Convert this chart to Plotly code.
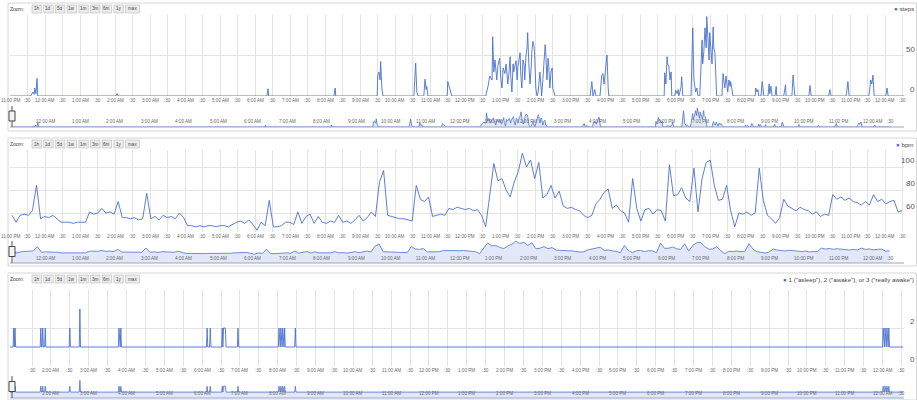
import plotly.graph_objects as go

W, H = 917, 400

# ---------------- DATA ----------------
# steps: minutes after 11:00 PM, value
STEPS_T = [0, 35, 39, 41, 42, 44, 46, 47,
           181, 183, 185,
           440, 442, 443,
           555, 557, 558,
           629, 630, 632, 634, 635, 637, 639,
           692, 694, 695, 697, 699,
           709, 711, 713, 714, 716,
           749, 750, 752, 754, 755, 757,
           815, 819, 822, 826, 827, 829, 831, 834, 836, 839,
           841, 843, 845, 848, 850, 853, 855, 857, 858, 860,
           862, 863, 867, 869, 870, 874, 875, 877, 879, 881,
           882, 884, 886, 887, 889, 891, 893, 894, 896, 898,
           899, 901, 903, 905, 908, 910, 911, 913, 915, 917,
           918, 920, 922, 923, 925, 927, 929, 930, 932, 934,
           994, 997, 999, 1002, 1004,
           1011, 1014, 1016, 1018, 1019, 1021, 1023, 1025, 1026,
           1121, 1122, 1124, 1126, 1127, 1129, 1131, 1133, 1134,
           1139, 1141, 1143, 1145, 1146, 1148, 1150, 1151, 1153,
           1167, 1169, 1170, 1172, 1174, 1175, 1177, 1179,
           1182, 1184, 1186, 1187, 1189, 1191, 1193, 1194, 1196,
           1198, 1199, 1201, 1203, 1205, 1206, 1208, 1210, 1211,
           1220, 1222, 1223, 1225, 1227, 1229, 1230, 1232, 1234, 1235, 1237, 1239,
           1277, 1278, 1280, 1282, 1283,
           1287, 1289, 1290, 1292,
           1299, 1301, 1302, 1304, 1306,
           1311, 1313, 1314,
           1326, 1329, 1330,
           1340, 1342, 1344, 1345,
           1369, 1371, 1373,
           1403, 1405, 1407,
           1433, 1434, 1436, 1438,
           1472, 1474, 1475, 1477, 1479, 1481,
           1501, 1503, 1505, 1532]
STEPS_V = [0, 0, 5, 2, 10, 3, 22, 0,
           0, 3, 0,
           0, 9, 0,
           0, 10, 0,
           0, 26, 30, 20, 43, 10, 0,
           0, 22, 41, 5, 0,
           0, 21, 8, 12, 0,
           0, 18, 12, 8, 4, 0,
           0, 12, 25, 20, 74, 30, 45, 20, 38, 47,
           22, 10, 35, 28, 40, 15, 30, 49, 25, 5,
           40, 30, 44, 20, 35, 54, 30, 10, 45, 38,
           20, 50, 60, 79, 40, 15, 35, 55, 68, 62,
           50, 10, 0, 5, 30, 10, 0, 20, 45, 64,
           55, 20, 47, 40, 10, 30, 35, 10, 5, 0,
           0, 18, 0, 8, 0,
           0, 26, 28, 15, 22, 35, 51, 10, 0,
           0, 29, 15, 49, 40, 37, 20, 30, 0,
           0, 7, 3, 8, 0, 5, 12, 24, 0,
           0, 60, 85, 20, 8, 5, 10, 0,
           0, 30, 70, 40, 55, 85, 60, 99, 70,
           45, 79, 60, 40, 86, 60, 54, 20, 0,
           0, 28, 20, 10, 25, 15, 5, 20, 12, 18, 8, 0,
           0, 10, 5, 8, 0,
           0, 18, 8, 0,
           0, 15, 3, 12, 0,
           0, 12, 0,
           0, 14, 0,
           0, 26, 10, 0,
           0, 13, 0,
           0, 8, 0,
           0, 10, 18, 0,
           0, 12, 20, 15, 26, 0,
           0, 10, 0, 0]

# bpm: one reading every 7 minutes starting 11:03 PM
BPM_START = 3
BPM_STEP = 7
BPM_V = [58, 52, 58, 59, 58, 62, 84, 55, 57, 56,
         58, 55, 52, 52, 52, 51, 52, 52, 52, 61,
         59, 60, 64, 60, 61, 59, 70, 56, 56, 55,
         56, 54, 55, 77, 55, 57, 54, 58, 56, 57,
         55, 60, 56, 49, 49, 48, 49, 48, 49, 49,
         48, 49, 49, 48, 50, 52, 53, 51, 54, 50,
         45, 52, 49, 71, 48, 48, 49, 52, 52, 50,
         61, 51, 57, 59, 51, 57, 52, 51, 53, 52,
         58, 52, 53, 51, 54, 58, 53, 56, 61, 57,
         87, 97, 58, 57, 56, 55, 55, 54, 53, 84,
         72, 70, 74, 57, 58, 59, 58, 64, 63, 65,
         64, 63, 64, 62, 63, 58, 48, 74, 103, 88,
         90, 80, 74, 87, 96, 112, 100, 106, 90, 104,
         73, 76, 84, 73, 79, 66, 64, 65, 63, 62,
         58, 56, 58, 68, 72, 78, 81, 64, 67, 62,
         60, 52, 90, 64, 53, 63, 64, 59, 63, 62,
         53, 102, 75, 76, 82, 73, 70, 99, 61, 90,
         104, 106, 84, 71, 72, 84, 62, 48, 60, 59,
         61, 58, 60, 99, 71, 58, 55, 51, 56, 72,
         66, 64, 62, 65, 63, 62, 59, 61, 57, 59,
         58, 76, 72, 74, 71, 73, 70, 69, 67, 70,
         67, 76, 70, 72, 68, 70, 71, 61, 62]
BPM_T = [BPM_START + BPM_STEP * i for i in range(len(BPM_V))]

# sleep state: minutes after 11:00 PM, value (1 asleep, 2 awake, 3 really awake)
SLEEP_T = [115,
           120, 121, 122, 122, 123, 124,
           163, 164, 165, 166, 167, 168, 170, 171, 172,
           209, 210, 211,
           225, 226, 227,
           287, 288, 289, 290, 291, 292,
           427, 428, 429, 432, 433, 434,
           451, 452, 453, 454, 457, 458,
           476, 477, 478,
           541, 542, 543, 544, 545, 546, 547, 548, 549, 550, 551, 552,
           567, 568, 569,
           1500, 1501, 1502, 1503, 1504, 1505, 1506, 1507, 1508, 1509, 1510, 1511,
           1533]
SLEEP_V = [1,
           1, 2, 1, 1, 2, 1,
           1, 2, 1, 1, 2, 1, 1, 2, 1,
           1, 2, 1,
           1, 3, 1,
           1, 2, 1, 1, 2, 1,
           1, 2, 1, 1, 2, 1,
           1, 2, 1, 2, 2, 1,
           1, 2, 1,
           1, 2, 1, 1, 2, 1, 1, 2, 1, 1, 2, 1,
           1, 2, 1,
           1, 2, 1, 1, 2, 1, 1, 2, 1, 1, 2, 1,
           1]

# hour names, index i = minute 60*i after 11:00 PM
HOUR_NAMES = ["11:00 PM", "12:00 AM", "1:00 AM", "2:00 AM", "3:00 AM", "4:00 AM",
              "5:00 AM", "6:00 AM", "7:00 AM", "8:00 AM", "9:00 AM", "10:00 AM",
              "11:00 AM", "12:00 PM", "1:00 PM", "2:00 PM", "3:00 PM", "4:00 PM",
              "5:00 PM", "6:00 PM", "7:00 PM", "8:00 PM", "9:00 PM", "10:00 PM",
              "11:00 PM", "12:00 AM"]
HALF_LABEL = ":30"
SERIES_NAMES = ["steps", "bpm", '1 ("asleep"), 2 ("awake"), or 3 ("really awake")']
Y_LABELS = [[0, 50], [60, 80, 100], [0, 2]]
ZOOM_BUTTONS = ["1h", "1d", "5d", "1w", "1m", "3m", "6m", "1y", "max"]

# ---------------- STYLE / GEOMETRY ----------------
LINE = "#4a71d0"
FILL = "rgba(74,113,208,0.16)"
GRID = "#e3e3e3"
TXT = "#6a6a6a"
FONT = "Arial, Liberation Sans, sans-serif"

X0, X1 = 10, 904


def px_range(x_at_ref, ref_min, px_per_hour):
    """minutes shown at the left/right plot edges for a linear time scale"""
    ppm = px_per_hour / 60.0
    return (ref_min + (X0 - x_at_ref) / ppm, ref_min + (X1 - x_at_ref) / ppm)


MAIN12 = px_range(10.25, 0, 35.0)       # 11:00 PM at the left edge
NAV12 = px_range(46.0, 60, 34.46)       # navigator: 12:00 AM at x=46
MAIN3 = px_range(13.1, 120, 37.8)       # 1:00 AM near the left edge
PANELS = [
    dict(top=3, bottom=131, main=(15, 96), nav=(105, 127), yr=(0, 101), navr=(0, 115),
         xr=MAIN12, nxr=NAV12, first_tick=0),
    dict(top=138, bottom=266, main=(150, 232), nav=(240, 263), yr=(43.5, 114.8), navr=(0, 118),
         xr=MAIN12, nxr=NAV12, first_tick=0),
    dict(top=273, bottom=400, main=(290, 366), nav=(375, 398), yr=(0, 4.0), navr=(0, 3.9),
         xr=MAIN3, nxr=MAIN3, first_tick=150),
]
SERIES = [(STEPS_T, STEPS_V), (BPM_T, BPM_V), (SLEEP_T, SLEEP_V)]


def fx(px):
    return px / W


def fy(py):
    return 1 - py / H


def time_to_paper(t, xr):
    """linear x scale of the panel: minutes -> paper fraction"""
    frac = (t - xr[0]) / (xr[1] - xr[0])
    return fx(X0 + frac * (X1 - X0))


fig = go.Figure()
layout = dict(width=W, height=H, margin=dict(l=0, r=0, t=0, b=0),
              paper_bgcolor="white", plot_bgcolor="rgba(0,0,0,0)",
              showlegend=False, font=dict(family=FONT, size=5, color=TXT))
shapes, annotations = [], []
LBL = dict(size=4.6, color=TXT, family=FONT)

for p, panel in enumerate(PANELS):
    xs, ys = SERIES[p]
    mi, ni = 2 * p + 1, 2 * p + 2
    mx = "x" if mi == 1 else f"x{mi}"
    my = "y" if mi == 1 else f"y{mi}"
    nx, ny = f"x{ni}", f"y{ni}"
    ticks = list(range(panel["first_tick"], 1531, 30))
    labels = [HOUR_NAMES[t // 60] if t % 60 == 0 else HALF_LABEL for t in ticks]

    fig.add_trace(go.Scatter(x=xs, y=ys, mode="lines", xaxis=mx, yaxis=my,
                             line=dict(color=LINE, width=0.9), hoverinfo="skip"))
    fig.add_trace(go.Scatter(x=xs, y=ys, mode="lines", xaxis=nx, yaxis=ny,
                             line=dict(color=LINE, width=0.8), fill="tozeroy",
                             fillcolor=FILL, hoverinfo="skip"))

    t, b = panel["main"]
    layout[("xaxis" if mi == 1 else f"xaxis{mi}")] = dict(
        domain=[fx(X0), fx(X1)], range=list(panel["xr"]), anchor=my,
        tickvals=ticks, showticklabels=False, showgrid=True, gridcolor=GRID,
        gridwidth=1, zeroline=False, showline=False, ticks="")
    layout[("yaxis" if mi == 1 else f"yaxis{mi}")] = dict(
        domain=[fy(b), fy(t)], range=list(panel["yr"]), anchor=mx,
        tickvals=Y_LABELS[p], showticklabels=False, showgrid=True, gridcolor=GRID,
        zeroline=False, showline=False)
    nt, nb = panel["nav"]
    layout[f"xaxis{ni}"] = dict(domain=[fx(X0), fx(X1)], range=list(panel["nxr"]), anchor=ny,
                                showticklabels=False, showgrid=False, zeroline=False,
                                showline=False)
    layout[f"yaxis{ni}"] = dict(domain=[fy(nb), fy(nt)], range=list(panel["navr"]), anchor=nx,
                                showticklabels=False, showgrid=False, zeroline=False,
                                showline=False)

    # main x labels (centered on the grid lines; leftmost kept inside the page)
    for tv, lab in zip(ticks, labels):
        xp = time_to_paper(tv, panel["xr"])
        anchor = "center"
        if xp * W < 9:
            xp, anchor = fx(0.5), "left"
        annotations.append(dict(x=xp, y=fy(b + 4), xref="paper", yref="paper", text=lab,
                                showarrow=False, xanchor=anchor, yanchor="middle", font=LBL))
    # nav labels (hours only, last half hour)
    for tv, lab in zip(ticks, labels):
        if tv == 0 or (lab == HALF_LABEL and tv != ticks[-1]):
            continue
        annotations.append(dict(x=time_to_paper(tv, panel["nxr"]), y=fy(nb - 5),
                                xref="paper", yref="paper", text=lab,
                                showarrow=False, xanchor="center", yanchor="middle", font=LBL))
    # y labels (right side, above the grid line)
    for v in Y_LABELS[p]:
        annotations.append(dict(x=fx(917), y=v, xref="paper", yref=my, text=str(v),
                                showarrow=False, xanchor="right", yanchor="bottom",
                                font=dict(size=8, color="#555555", family=FONT)))
    # legend
    annotations.append(dict(x=fx(916), y=fy(panel["top"] + 6), xref="paper", yref="paper",
                            text=f"<span style='color:{LINE}'>\u25CF</span> {SERIES_NAMES[p]}",
                            showarrow=False, xanchor="right", yanchor="middle",
                            font=dict(size=6.2, color="#444444", family=FONT)))
    # zoom buttons
    zy = panel["top"] + 2
    annotations.append(dict(x=fx(8), y=fy(zy + 3.8), xref="paper", yref="paper", text="Zoom:",
                            showarrow=False, xanchor="left", yanchor="middle",
                            font=dict(size=5, color="#444444", family=FONT)))
    bx = 32
    for name in ZOOM_BUTTONS:
        bw = 14 if name == "max" else 9.5
        shapes.append(dict(type="rect", xref="paper", yref="paper",
                           x0=fx(bx), x1=fx(bx + bw), y0=fy(zy + 8), y1=fy(zy),
                           line=dict(color="#b8b8b8", width=0.6), fillcolor="#ececec"))
        annotations.append(dict(x=fx(bx + bw / 2), y=fy(zy + 4), xref="paper", yref="paper",
                                text=name, showarrow=False, xanchor="center", yanchor="middle",
                                font=dict(size=4.6, color="#444444", family=FONT)))
        bx += bw + 2.2
    # panel border
    shapes.append(dict(type="rect", xref="paper", yref="paper",
                       x0=fx(8), x1=fx(916.5), y0=fy(panel["bottom"]), y1=fy(panel["top"]),
                       line=dict(color="#d6d6d6", width=1), fillcolor="rgba(0,0,0,0)",
                       layer="below"))
    # nav bottom line
    shapes.append(dict(type="line", xref="paper", yref="paper", x0=fx(X0), x1=fx(X1),
                       y0=fy(nb), y1=fy(nb), line=dict(color="#9aa6bf", width=1)))
    # nav handle
    shapes.append(dict(type="line", xref="paper", yref="paper", x0=fx(12), x1=fx(12),
                       y0=fy(nb), y1=fy(nt + 1), line=dict(color="#555555", width=1)))
    mid = (nt + nb) / 2
    shapes.append(dict(type="rect", xref="paper", yref="paper", x0=fx(9), x1=fx(15),
                       y0=fy(mid + 5), y1=fy(mid - 5), line=dict(color="#444444", width=1),
                       fillcolor="#f4f4f4"))

layout["shapes"] = shapes
layout["annotations"] = annotations
fig.update_layout(**layout)
fig.write_html("out.html", config={"displayModeBar": False},
               post_script="document.body.style.margin='0';document.body.style.overflow='hidden';")
